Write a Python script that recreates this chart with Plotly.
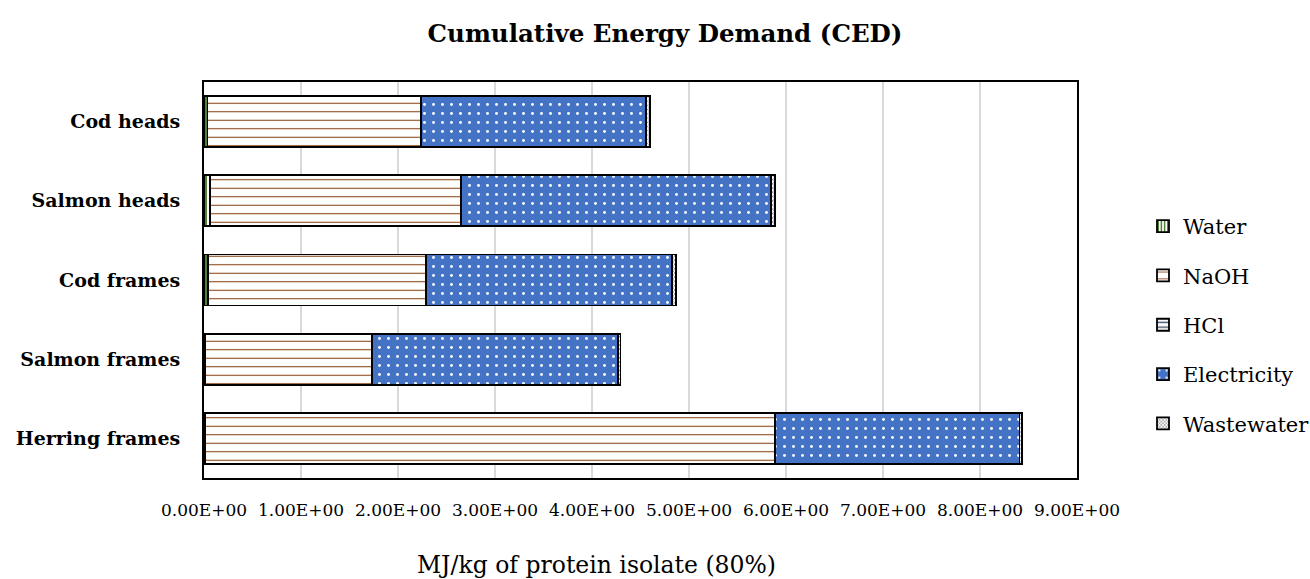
import plotly.graph_objects as go

categories = ["Cod heads", "Salmon heads", "Cod frames", "Salmon frames", "Herring frames"]
water = [0.035, 0.06, 0.04, 0.01, 0.01]
naoh = [2.20, 2.59, 2.25, 1.725, 5.875]
hcl = [0.003, 0.003, 0.003, 0.003, 0.003]
electricity = [2.32, 3.19, 2.53, 2.53, 2.52]
wastewater = [0.037, 0.045, 0.04, 0.025, 0.025]

tick_vals = [0, 1, 2, 3, 4, 5, 6, 7, 8, 9]
tick_text = ["0.00E+00", "1.00E+00", "2.00E+00", "3.00E+00", "4.00E+00",
             "5.00E+00", "6.00E+00", "7.00E+00", "8.00E+00", "9.00E+00"]

FONT = "DejaVu Serif"

series = [
    ("Water", water, dict(shape="|", fgcolor="#548235", bgcolor="#FFFFFF", size=4, solidity=0.5)),
    ("NaOH", naoh, dict(shape="-", fgcolor="#843C0C", bgcolor="#FFFFFF", size=8.5, solidity=0.12)),
    ("HCl", hcl, dict(shape="-", fgcolor="#44546A", bgcolor="#FFFFFF", size=6, solidity=0.3)),
    ("Electricity", electricity, dict(shape=".", fgcolor="#FFFFFF", bgcolor="#4472C4", size=9, solidity=0.08)),
    ("Wastewater", wastewater, dict(shape="x", fgcolor="#7F7F7F", bgcolor="#FFFFFF", size=3, solidity=0.4)),
]

fig = go.Figure()
for name, vals, pat in series:
    fig.add_trace(go.Bar(
        name=name, y=categories, x=vals, orientation="h",
        legendgroup=name,
        marker=dict(color=pat["bgcolor"], pattern=dict(fillmode="replace", **pat),
                    line=dict(color="#000000", width=1.8)),
    ))

fig.update_layout(
    barmode="stack",
    bargap=0.356,
    width=1310, height=579,
    margin=dict(l=204, r=233, t=82, b=101),
    paper_bgcolor="#FFFFFF", plot_bgcolor="#FFFFFF",
    font=dict(family=FONT, color="#000000"),
    title=dict(text="<b>Cumulative Energy Demand (CED)</b>", font=dict(family=FONT, size=24.5),
               x=665 / 1310, xref="container", xanchor="center",
               y=1 - 33 / 579, yref="container", yanchor="middle"),
    legend=dict(font=dict(family=FONT, size=21), xref="container", yref="container",
                x=1143 / 1310, xanchor="left", y=1 - 325 / 579, yanchor="middle",
                tracegroupgap=19, bgcolor="rgba(0,0,0,0)"),
    xaxis=dict(range=[0, 9], tickvals=tick_vals, ticktext=tick_text,
               tickfont=dict(family=FONT, size=17), showgrid=True, gridcolor="#D9D9D9", gridwidth=2,
               showline=True, mirror=True, linecolor="#000000", linewidth=2,
               zeroline=False, ticks="", ticklabelstandoff=16),
    yaxis=dict(autorange="reversed", tickfont=dict(family=FONT, size=19, weight="bold"),
               showline=True, mirror=True, linecolor="#000000", linewidth=2,
               ticks="", ticklabelstandoff=18),
    annotations=[dict(text="MJ/kg of protein isolate (80%)", xref="paper", yref="paper",
                      x=(596.5 - 204) / 873, y=(478 - 565) / 396, xanchor="center", yanchor="middle",
                      showarrow=False, font=dict(family=FONT, size=23.5))],
)

fig.write_html("out.html")
